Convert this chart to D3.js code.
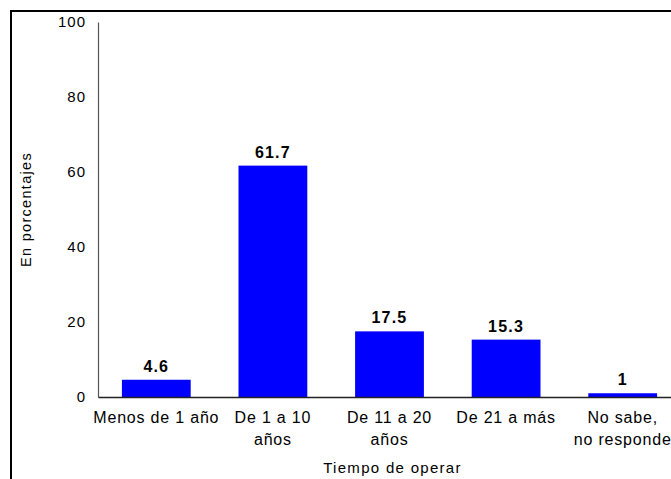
<!DOCTYPE html>
<html>
<head>
<meta charset="utf-8">
<script src="https://cdn.jsdelivr.net/npm/d3@7"></script>
<style>
  html, body { margin: 0; padding: 0; background: #fff; }
  svg { display: block; font-family: "Liberation Sans", Arial, sans-serif; }
</style>
</head>
<body>
<svg id="chart" width="671" height="479"></svg>
<script>
// Categories (line breaks mark where the label wraps)
const categories = ["Menos de 1 año", "De 1 a 10\naños", "De 11 a 20\naños", "De 21 a más", "No sabe,\nno responde"];
// Percentages per category
const values = [4.6, 61.7, 17.5, 15.3, 1];
// Y axis tick values
const yTicks = [0, 20, 40, 60, 80, 100];
const yTitle = "En porcentajes";
const xTitle = "Tiempo de operar";

const svg = d3.select("#chart");
const plot = { left: 98, right: 681, top: 22, bottom: 397 };

// Outer frame (runs past the right and bottom edges)
svg.append("rect")
  .attr("x", 11).attr("y", 11)
  .attr("width", 680).attr("height", 500)
  .attr("fill", "none").attr("stroke", "#000").attr("stroke-width", 2);

const x = d3.scaleBand()
  .domain(categories)
  .range([plot.left, plot.right])
  .paddingInner(0.41)
  .paddingOuter(0.205);

const y = d3.scaleLinear()
  .domain([0, 100])
  .range([plot.bottom, plot.top]);

// Bars
svg.append("g").selectAll("rect")
  .data(values)
  .join("rect")
  .attr("x", (d, i) => x(categories[i]))
  .attr("y", d => y(d))
  .attr("width", x.bandwidth())
  .attr("height", d => y(0) - y(d))
  .attr("fill", "#0000ff");

// Value labels
svg.append("g").selectAll("text")
  .data(values)
  .join("text")
  .attr("x", (d, i) => x(categories[i]) + x.bandwidth() / 2)
  .attr("y", d => y(d) - 8)
  .attr("text-anchor", "middle")
  .attr("font-size", 16)
  .attr("font-weight", "bold")
  .attr("letter-spacing", 1.2)
  .attr("fill", "#000")
  .text(d => d);

// Y axis
const yAxis = svg.append("g")
  .attr("transform", `translate(${plot.left},0)`)
  .call(d3.axisLeft(y).tickValues(yTicks).tickSize(0).tickSizeOuter(0).tickPadding(12));
yAxis.select(".domain").attr("stroke", "#555").attr("stroke-width", 1.2);
yAxis.selectAll("text")
  .attr("font-size", 15)
  .attr("letter-spacing", 1)
  .attr("font-family", "Liberation Sans, Arial, sans-serif")
  .attr("fill", "#000");

// X axis
const xAxis = svg.append("g")
  .attr("transform", `translate(0,${plot.bottom})`)
  .call(d3.axisBottom(x).tickSize(0).tickSizeOuter(0).tickPadding(0).tickFormat(() => ""));
xAxis.select(".domain").attr("stroke", "#222").attr("stroke-width", 1.5);
xAxis.selectAll(".tick text").remove();
xAxis.selectAll(".tick").each(function (d) {
  const lines = d.split("\n");
  const t = d3.select(this).append("text")
    .attr("text-anchor", "middle")
    .attr("font-size", 16)
    .attr("letter-spacing", 0.8)
    .attr("font-family", "Liberation Sans, Arial, sans-serif")
    .attr("fill", "#000");
  lines.forEach((ln, i) => {
    t.append("tspan").attr("x", 0).attr("y", 25.7 + i * 22.3).text(ln);
  });
});

// Axis titles
svg.append("text")
  .attr("transform", `translate(31,${(plot.top + plot.bottom) / 2}) rotate(-90)`)
  .attr("text-anchor", "middle")
  .attr("font-size", 14.5)
  .attr("letter-spacing", 1.3)
  .attr("fill", "#000")
  .text(yTitle);

svg.append("text")
  .attr("x", (plot.left + plot.right) / 2 + 3)
  .attr("y", 473)
  .attr("text-anchor", "middle")
  .attr("font-size", 15)
  .attr("letter-spacing", 1.3)
  .attr("fill", "#000")
  .text(xTitle);
</script>
</body>
</html>
